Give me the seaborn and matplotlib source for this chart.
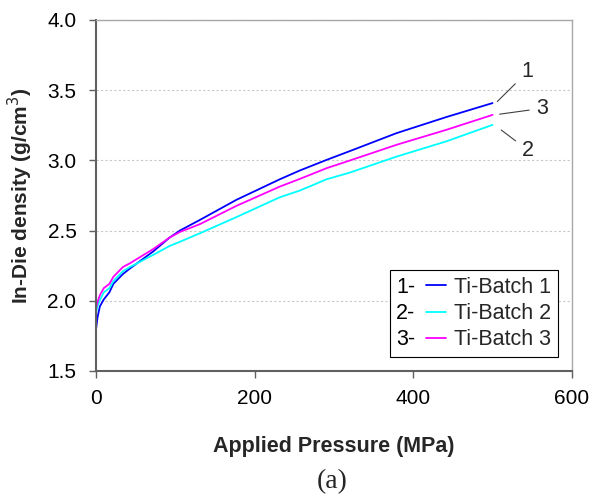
import matplotlib
matplotlib.use('Agg')
import numpy as np
import pandas as pd
import matplotlib.pyplot as plt
import seaborn as sns
from matplotlib.legend_handler import HandlerLine2D
from matplotlib.text import Text

sns.set_theme(style="white")
plt.rcParams['font.family'] = ['Liberation Sans', 'DejaVu Sans']

# Values
pressure = [0, 2, 5, 10, 17, 22, 34, 43, 72, 93, 106, 131, 177, 232, 257, 291, 320, 379, 442, 500]
batch1 = [1.79, 1.88, 1.96, 2.01, 2.06, 2.12, 2.19, 2.23, 2.35, 2.45, 2.50, 2.575, 2.718, 2.865,
          2.927, 3.003, 3.065, 3.193, 3.308, 3.407]
batch2 = [1.91, 1.96, 2.005, 2.06, 2.09, 2.14, 2.21, 2.24, 2.326, 2.39, 2.42, 2.48, 2.595, 2.737,
          2.784, 2.865, 2.912, 3.026, 3.135, 3.252]
batch3 = [1.94, 1.99, 2.04, 2.09, 2.12, 2.17, 2.24, 2.267, 2.367, 2.45, 2.49, 2.545, 2.675, 2.813,
          2.867, 2.944, 2.998, 3.11, 3.217, 3.323]

batch_names = ['Ti-Batch 1', 'Ti-Batch 2', 'Ti-Batch 3']
batch_nums = ['1-', '2-', '3-']
colors = ['#0000ff', '#00ffff', '#ff00ff']

# curve number labels: (text, end point, text position)
curve_labels = [('1', (506, 3.418), (544, 3.63)),
                ('3', (509, 3.328), (563, 3.37)),
                ('2', (511, 3.215), (545, 3.07))]

df = pd.concat([
    pd.DataFrame({'Pressure': pressure, 'Density': vals, 'Batch': name})
    for name, vals in zip(batch_names, [batch1, batch2, batch3])
])


class NumberedHandler(HandlerLine2D):
    # draws "1-" in front of the legend line
    def __init__(self, num, **kw):
        super().__init__(**kw)
        self.num = num

    def create_artists(self, legend, orig_handle, xdescent, ydescent, width, height, fontsize, trans):
        pre = fontsize * 1.4
        arts = super().create_artists(legend, orig_handle, xdescent - pre, ydescent,
                                      width - pre, height, fontsize, trans)
        t = Text(-xdescent, 0, self.num, fontsize=fontsize,
                 ha='left', va='baseline', transform=trans, color='black')
        return list(arts) + [t]


fig = plt.figure(figsize=(5.92, 4.94), dpi=100)
ax = fig.add_axes([0.162, 0.249, 0.804, 0.711])

sns.lineplot(data=df, x='Pressure', y='Density', hue='Batch', palette=colors,
             estimator=None, sort=True, linewidth=1.3, legend=False, ax=ax)

ax.set_xlim(0, 600)
ax.set_ylim(1.5, 4.0)
ax.set_xticks([0, 200, 400, 600])
ax.set_yticks([1.5, 2.0, 2.5, 3.0, 3.5, 4.0])
ax.set_yticklabels(['1.5', '2.0', '2.5', '3.0', '3.5', '4.0'])

ax.yaxis.grid(True, linestyle=(0, (2, 2)), color='#c8c8c8', linewidth=0.8)
ax.xaxis.grid(False)

for s in ['left', 'bottom']:
    ax.spines[s].set_color('#606060')
    ax.spines[s].set_linewidth(1.5)
for s in ['top', 'right']:
    ax.spines[s].set_color('#a8a8a8')
    ax.spines[s].set_linewidth(1.0)

ax.tick_params(axis='both', direction='out', length=5, width=1.0, color='#606060',
               labelsize=15, labelcolor='black')
ax.tick_params(axis='y', pad=9, left=True)
ax.tick_params(axis='x', pad=8, bottom=True)

ax.set_xlabel('Applied Pressure (MPa)', fontsize=15.5, fontweight='bold')
ax.set_ylabel('In-Die density (g/cm$^3$)', fontsize=15, fontweight='bold')
ax.xaxis.set_label_coords(0.5, -0.185)
ax.yaxis.set_label_coords(-0.128, 0.5)

for txt, xy, xyt in curve_labels:
    ax.annotate(txt, xy=xy, xytext=xyt, fontsize=15.5, ha='center', va='center',
                annotation_clip=False,
                arrowprops=dict(arrowstyle='-', color='#404040', lw=0.8, shrinkA=3, shrinkB=0))

lines = ax.get_lines()[:3]
handler_map = {ln: NumberedHandler(n) for ln, n in zip(lines, batch_nums)}
leg = ax.legend(lines, batch_names, handler_map=handler_map, loc='lower right',
                bbox_to_anchor=(0.971, 0.04), borderaxespad=0, fontsize=15.5,
                frameon=True, fancybox=False, edgecolor='black', framealpha=1,
                handlelength=2.3, handletextpad=0.4, labelspacing=0.25, borderpad=0.3)
leg.get_frame().set_linewidth(0.8)

fig.text(0.561, 0.026, '(a)', ha='center', va='center', fontsize=20,
         family=['Liberation Serif', 'DejaVu Serif'])

fig.savefig('out.png', dpi=100)
